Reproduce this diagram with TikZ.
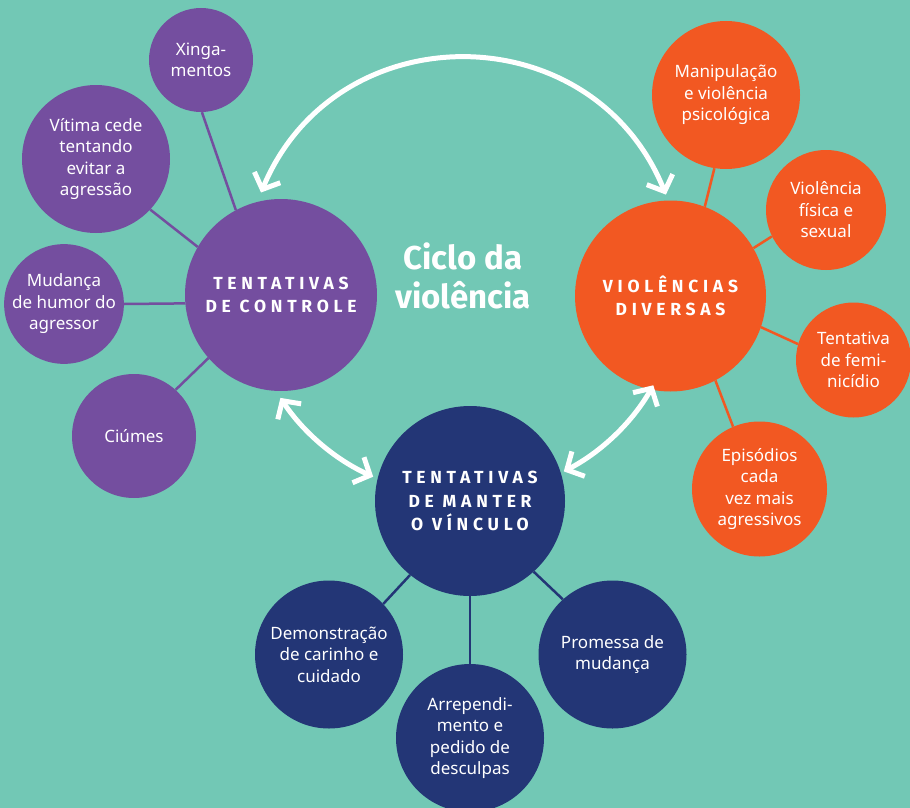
\documentclass[tikz,border=0pt]{standalone}
\usepackage{fontspec}
\setmainfont{Noto Sans}
\newfontfamily\boldsans{Fira Sans}
\newfontfamily\spacedfont[LetterSpace=27]{Fira Sans}
\usetikzlibrary{arrows.meta}
\definecolor{bgteal}{HTML}{72C8B5}
\definecolor{cpurple}{HTML}{744E9F}
\definecolor{corange}{HTML}{F25822}
\definecolor{cnavy}{HTML}{233676}
\begin{document}
\begin{tikzpicture}[x=1pt,y=-1pt,
  smallc/.style={circle, inner sep=0pt, text=white, align=center,
    font=\fontsize{17}{21.5}\selectfont},
  mainc/.style={circle, inner sep=0pt, text=white, align=center,
    font=\fontsize{17.5}{23.5}\selectfont\spacedfont\bfseries},
  conP/.style={draw=cpurple, line width=2.5pt},
  conO/.style={draw=corange, line width=2.5pt},
  conN/.style={draw=cnavy, line width=2.5pt},
  cyc/.style={white, line width=5pt,
    {Straight Barb[length=13pt,width=28pt]}-{Straight Barb[length=13pt,width=28pt]}}]
\useasboundingbox (0,0) rectangle (910,808);
\fill[bgteal] (0,0) rectangle (910,808);
\clip (0,0) rectangle (910,808);

% purple group
\node[mainc, fill=cpurple, minimum size=192pt] (P) at (281,295) {TENTATIVAS\\DE CONTROLE};
\node[smallc, fill=cpurple, minimum size=104pt] (xing) at (201,60) {Xinga-\\mentos};
\node[smallc, fill=cpurple, minimum size=148pt] (vit) at (96,159) {Vítima cede\\tentando\\evitar a\\agressão};
\node[smallc, fill=cpurple, minimum size=118pt] (mud) at (64,304) {Mudança\\de humor do\\agressor};
\node[smallc, fill=cpurple, minimum size=124pt] (ciu) at (134,436) {Ciúmes};

% orange group
\node[mainc, fill=corange, minimum size=191pt] (O) at (670.5,296) {VIOLÊNCIAS\\DIVERSAS};
\node[smallc, fill=corange, minimum size=148pt] (manip) at (726,95) {Manipulação\\e violência\\psicológica};
\node[smallc, fill=corange, minimum size=120pt] (fis) at (826,210) {Violência\\física e\\sexual};
\node[smallc, fill=corange, minimum size=115pt] (fem) at (853.5,360) {Tentativa\\de femi-\\nicídio};
\node[smallc, fill=corange, minimum size=135pt] (epi) at (759.5,489) {Episódios\\cada\\vez mais\\agressivos};

% navy group
\node[mainc, fill=cnavy, minimum size=190pt] (N) at (470,501) {TENTATIVAS\\DE MANTER\\O VÍNCULO};
\node[smallc, fill=cnavy, minimum size=148pt] (dem) at (329,654.5) {Demonstração\\de carinho e\\cuidado};
\node[smallc, fill=cnavy, minimum size=148pt] (arr) at (470,738) {Arrependi-\\mento e\\pedido de\\desculpas};
\node[smallc, fill=cnavy, minimum size=148pt] (prom) at (612.5,654.5) {Promessa de\\mudança};

% connectors
\draw[conP] (xing.-89) -- (P.118.4);
\draw[conP] (vit.-43.4) -- (P.150.3);
\draw[conP] (mud.0) -- (P.185);
\draw[conP] (ciu.48.2) -- (P.221.2);
\draw[conO] (manip.261.4) -- (O.69.4);
\draw[conO] (fis.206.6) -- (O.30.2);
\draw[conO] (fem.164.9) -- (O.-19.7);
\draw[conO] (epi.113.1) -- (O.-62.6);
\draw[conN] (dem.43.6) -- (N.231);
\draw[conN] (arr.north) -- (N.south);
\draw[conN] (prom.132.3) -- (N.-48.8);

% title
\node[font=\fontsize{33}{39}\selectfont\boldsans\bfseries, text=white, align=center] (title) at (463,276) {Ciclo da\\violência};

% cycle arrows
\coordinate (a1) at (261.0,192.5);
\coordinate (a2) at (665.9,194.6);
\draw[cyc] (a1) .. controls (336.4,12.1) and (592.4,13.5) .. (a2);
\coordinate (b1) at (280.4,397.9);
\coordinate (b2) at (373.2,476.7);
\draw[cyc] (b1) .. controls (303.3,432.4) and (335.4,459.7) .. (b2);
\coordinate (c1) at (563.8,471.4);
\coordinate (c2) at (653.3,385.3);
\draw[cyc] (c1) .. controls (601.4,451.9) and (632.4,422.1) .. (c2);
\end{tikzpicture}
\end{document}
